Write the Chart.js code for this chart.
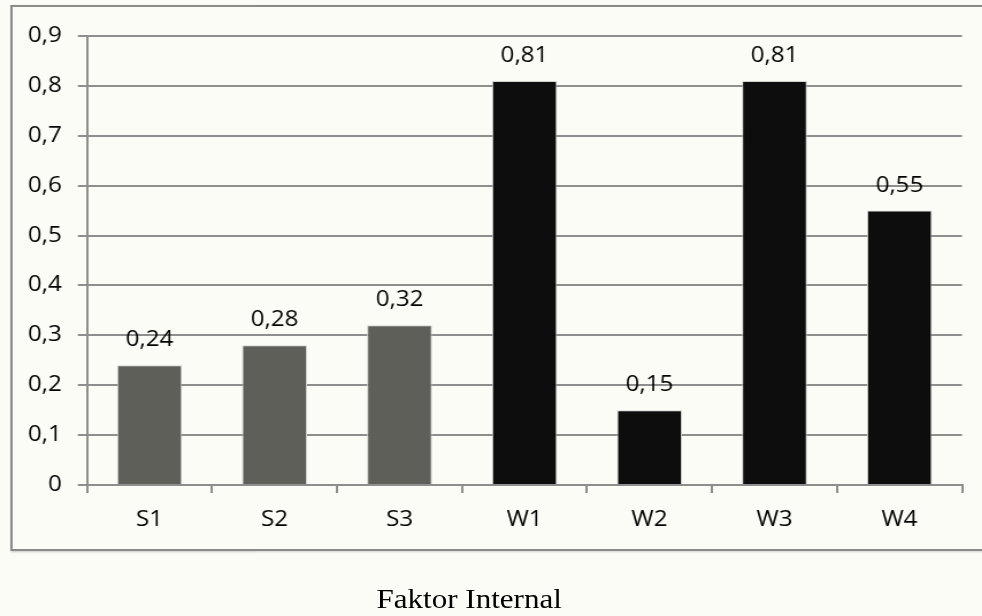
<!DOCTYPE html>
<html>
<head>
<meta charset="utf-8">
<script src="https://cdn.jsdelivr.net/npm/chart.js@4.4.1/dist/chart.umd.min.js"></script>
<style>
  html, body { margin: 0; padding: 0; background: #fcfcf7; overflow: hidden; }
  /* the source picture is stretched sideways, so the whole stage is too */
  #stage { position: absolute; left: 0; top: 0; width: 854px; height: 616px; transform: scaleX(1.15); transform-origin: 0 0; }
  #frame { position: absolute; left: 9px; top: 5px; width: 900px; height: 542px; border: 2px solid #8a8a8a; box-shadow: 1px 1px 2px #c4c4c4; }
  #chart-box { position: absolute; left: 0; top: 0; width: 854px; height: 616px; }
  #caption { position: absolute; left: 0; top: 586px; width: 816px; text-align: center; line-height: 27px;
             font-family: "Liberation Serif", "Times New Roman", serif; font-size: 27px; color: #000; }
</style>
</head>
<body>
<div id="stage">
  <div id="frame"></div>
  <div id="chart-box"><canvas id="chart"></canvas></div>
  <div id="caption">Faktor Internal</div>
</div>
<script>
// Data
const categories = ['S1', 'S2', 'S3', 'W1', 'W2', 'W3', 'W4'];
const values = [0.24, 0.28, 0.32, 0.81, 0.15, 0.81, 0.55];
const yTicks = [0, 0.1, 0.2, 0.3, 0.4, 0.5, 0.6, 0.7, 0.8, 0.9];

const STRENGTH_COLOR = '#5f5f5a';
const WEAKNESS_COLOR = '#0d0d0d';
const GRID_COLOR = '#8e8e8e';
const TEXT_COLOR = '#000';
const FONT = { family: "'Open Sans', sans-serif", size: 21 };

function fmt(v) {
  if (Math.abs(v) < 1e-9) return '0';
  return v.toFixed(Math.abs(v * 10 - Math.round(v * 10)) < 1e-6 ? 1 : 2).replace('.', ',');
}

// value labels above the bars
const valueLabels = {
  id: 'valueLabels',
  afterDatasetsDraw(chart) {
    const ctx = chart.ctx;
    const meta = chart.getDatasetMeta(0);
    ctx.save();
    ctx.font = `${FONT.size}px ${FONT.family}`;
    ctx.fillStyle = TEXT_COLOR;
    ctx.textAlign = 'center';
    ctx.textBaseline = 'alphabetic';
    meta.data.forEach((bar, i) => {
      ctx.fillText(fmt(values[i]), bar.x, bar.y - 19);
    });
    ctx.restore();
  }
};

new Chart(document.getElementById('chart'), {
  type: 'bar',
  data: {
    labels: categories,
    datasets: [{
      data: values,
      backgroundColor: categories.map((c) => c.startsWith('S') ? STRENGTH_COLOR : WEAKNESS_COLOR),
      borderColor: '#d2d2d2',
      borderWidth: 1,
      categoryPercentage: 1,
      barPercentage: 0.52,
    }],
  },
  options: {
    responsive: true,
    maintainAspectRatio: false,
    animation: false,
    layout: { padding: { left: 0, right: 17.5, top: 36, bottom: 71 } },
    plugins: { legend: { display: false }, tooltip: { enabled: false } },
    scales: {
      x: {
        afterFit(scale) { scale.height = 60; },
        grid: { display: true, drawOnChartArea: false, drawTicks: true, tickLength: 8, offset: true, color: GRID_COLOR, lineWidth: 2 },
        border: { display: true, color: GRID_COLOR, width: 2 },
        ticks: { font: FONT, color: TEXT_COLOR, padding: 14 },
      },
      y: {
        min: 0,
        max: 0.9,
        afterFit(scale) { scale.width = 75.7; },
        afterBuildTicks(scale) { scale.ticks = yTicks.map((v) => ({ value: v })); },
        grid: { color: GRID_COLOR, lineWidth: 2, tickLength: 8 },
        border: { display: true, color: GRID_COLOR, width: 2 },
        ticks: { font: FONT, color: TEXT_COLOR, padding: 14, callback: (v) => fmt(v) },
      },
    },
  },
  plugins: [valueLabels],
});
</script>
</body>
</html>
